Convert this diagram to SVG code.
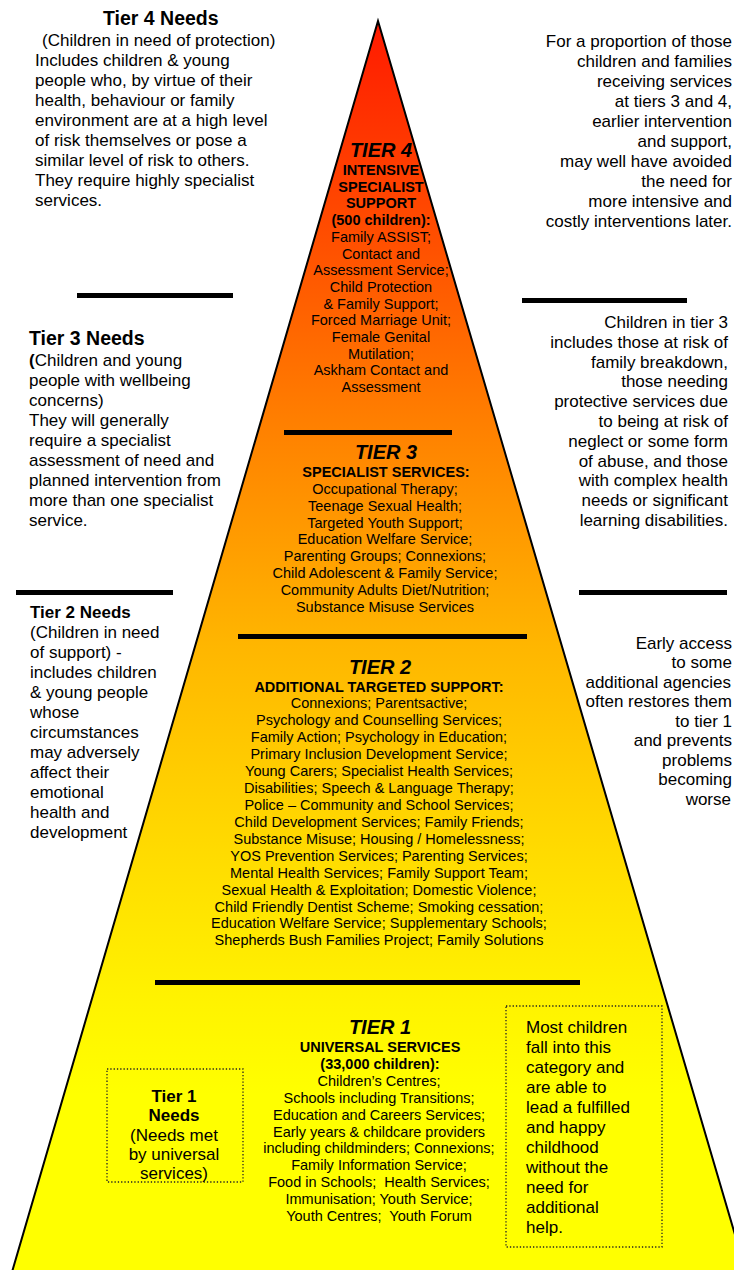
<svg xmlns="http://www.w3.org/2000/svg" width="734" height="1270" viewBox="0 0 734 1270">
<defs>
<linearGradient id="pyr" gradientUnits="userSpaceOnUse" x1="0" y1="21" x2="0" y2="1270">
<stop offset="0" stop-color="#FF1A00"/>
<stop offset="0.185" stop-color="#FF5200"/>
<stop offset="0.32" stop-color="#FF7F00"/>
<stop offset="0.5" stop-color="#FFB600"/>
<stop offset="0.66" stop-color="#FFDA00"/>
<stop offset="0.78" stop-color="#FFF200"/>
<stop offset="0.86" stop-color="#FFFF00"/>
<stop offset="1" stop-color="#FFFF00"/>
</linearGradient>
<style>
text{font-family:"Liberation Sans",Arial,Helvetica,sans-serif;fill:#000}
.b17{font-size:17px}
.h19{font-size:19.5px;font-weight:bold}
.h17{font-size:17px;font-weight:bold}
.r{text-anchor:end}
.c{text-anchor:middle}
.tier{font-size:20px;font-weight:bold;font-style:italic;text-anchor:middle}
.sub{font-size:14.5px;font-weight:bold;text-anchor:middle}
.item{font-size:14.5px;text-anchor:middle}
.bar{fill:#000}
.dot{fill:none;stroke:#222;stroke-width:1.3;stroke-dasharray:1.3 2}
</style>
</defs>
<rect width="734" height="1270" fill="#fff"/>

<g id="pyramid">
<polygon points="378,21 12,1272 746,1272" fill="url(#pyr)" stroke="#000" stroke-width="2" stroke-linejoin="miter"/>
</g>

<g id="connectors">
<rect class="bar" x="77" y="293" width="156" height="5"/>
<rect class="bar" x="522" y="298" width="165" height="5"/>
<rect class="bar" x="284" y="430" width="168" height="5"/>
<rect class="bar" x="16" y="590" width="157" height="5"/>
<rect class="bar" x="579" y="590" width="148" height="5"/>
<rect class="bar" x="238" y="634" width="289" height="5"/>
<rect class="bar" x="155" y="980" width="425" height="5"/>
</g>

<g id="tier4-needs">
<text class="h19" x="103" y="25">Tier 4 Needs</text>
<text class="b17" x="42" y="46">(Children in need of protection)</text>
<text class="b17" x="35" y="66">Includes children &amp; young</text>
<text class="b17" x="35" y="86">people who, by virtue of their</text>
<text class="b17" x="35" y="106">health, behaviour or family</text>
<text class="b17" x="35" y="126">environment are at a high level</text>
<text class="b17" x="35" y="146">of risk themselves or pose a</text>
<text class="b17" x="35" y="166">similar level of risk to others.</text>
<text class="b17" x="35" y="186">They require highly specialist</text>
<text class="b17" x="35" y="206">services.</text>
</g>

<g id="tier4-note">
<text class="b17 r" x="732" y="47">For a proportion of those</text>
<text class="b17 r" x="732" y="67">children and families</text>
<text class="b17 r" x="732" y="87">receiving services</text>
<text class="b17 r" x="732" y="107">at tiers 3 and 4,</text>
<text class="b17 r" x="732" y="127">earlier intervention</text>
<text class="b17 r" x="732" y="147">and support,</text>
<text class="b17 r" x="732" y="167">may well have avoided</text>
<text class="b17 r" x="732" y="187">the need for</text>
<text class="b17 r" x="732" y="207">more intensive and</text>
<text class="b17 r" x="732" y="227">costly interventions later.</text>
</g>

<g id="tier4">
<text class="tier" x="381" y="157">TIER 4</text>
<text class="sub" x="381" y="175">INTENSIVE</text>
<text class="sub" x="381" y="192">SPECIALIST</text>
<text class="sub" x="381" y="208">SUPPORT</text>
<text class="sub" x="381" y="225">(500 children):</text>
<text class="item" x="381" y="242">Family ASSIST;</text>
<text class="item" x="381" y="259">Contact and</text>
<text class="item" x="381" y="275">Assessment Service;</text>
<text class="item" x="381" y="292">Child Protection</text>
<text class="item" x="381" y="309">&amp; Family Support;</text>
<text class="item" x="381" y="325">Forced Marriage Unit;</text>
<text class="item" x="381" y="342">Female Genital</text>
<text class="item" x="381" y="359">Mutilation;</text>
<text class="item" x="381" y="375">Askham Contact and</text>
<text class="item" x="381" y="392">Assessment</text>
</g>

<g id="tier3-needs">
<text class="h19" x="29" y="345">Tier 3 Needs</text>
<text class="b17" x="29" y="366"><tspan font-weight="bold">(</tspan>Children and young</text>
<text class="b17" x="29" y="386">people with wellbeing</text>
<text class="b17" x="29" y="406">concerns)</text>
<text class="b17" x="29" y="426">They will generally</text>
<text class="b17" x="29" y="446">require a specialist</text>
<text class="b17" x="29" y="466">assessment of need and</text>
<text class="b17" x="29" y="486">planned intervention from</text>
<text class="b17" x="29" y="506">more than one specialist</text>
<text class="b17" x="29" y="526">service.</text>
</g>

<g id="tier3-note">
<text class="b17 r" x="728" y="328">Children in tier 3</text>
<text class="b17 r" x="728" y="348">includes those at risk of</text>
<text class="b17 r" x="728" y="368">family breakdown,</text>
<text class="b17 r" x="728" y="387">those needing</text>
<text class="b17 r" x="728" y="407">protective services due</text>
<text class="b17 r" x="728" y="427">to being at risk of</text>
<text class="b17 r" x="728" y="447">neglect or some form</text>
<text class="b17 r" x="728" y="467">of abuse, and those</text>
<text class="b17 r" x="728" y="486">with complex health</text>
<text class="b17 r" x="728" y="506">needs or significant</text>
<text class="b17 r" x="728" y="526">learning disabilities.</text>
</g>

<g id="tier3">
<text class="tier" x="386" y="459">TIER 3</text>
<text class="sub" x="386" y="477">SPECIALIST SERVICES:</text>
<text class="item" x="385" y="494">Occupational Therapy;</text>
<text class="item" x="385" y="511">Teenage Sexual Health;</text>
<text class="item" x="385" y="528">Targeted Youth Support;</text>
<text class="item" x="385" y="544">Education Welfare Service;</text>
<text class="item" x="385" y="561">Parenting Groups; Connexions;</text>
<text class="item" x="385" y="578">Child Adolescent &amp; Family Service;</text>
<text class="item" x="385" y="595">Community Adults Diet/Nutrition;</text>
<text class="item" x="385" y="612">Substance Misuse Services</text>
</g>

<g id="tier2-needs">
<text class="h17" x="30" y="618">Tier 2 Needs</text>
<text class="b17" x="30" y="638">(Children in need</text>
<text class="b17" x="30" y="658">of support) -</text>
<text class="b17" x="30" y="678">includes children</text>
<text class="b17" x="30" y="698">&amp; young people</text>
<text class="b17" x="30" y="718">whose</text>
<text class="b17" x="30" y="738">circumstances</text>
<text class="b17" x="30" y="758">may adversely</text>
<text class="b17" x="30" y="778">affect their</text>
<text class="b17" x="30" y="798">emotional</text>
<text class="b17" x="30" y="818">health and</text>
<text class="b17" x="30" y="838">development</text>
</g>

<g id="tier2-note">
<text class="b17 r" x="732" y="649">Early access</text>
<text class="b17 r" x="732" y="668">to some</text>
<text class="b17 r" x="731" y="688">additional agencies</text>
<text class="b17 r" x="732" y="707">often restores them</text>
<text class="b17 r" x="732" y="727">to tier 1</text>
<text class="b17 r" x="732" y="746">and prevents</text>
<text class="b17 r" x="732" y="766">problems</text>
<text class="b17 r" x="732" y="785">becoming</text>
<text class="b17 r" x="731" y="805">worse</text>
</g>

<g id="tier2">
<text class="tier" x="380" y="674">TIER 2</text>
<text class="sub" x="379" y="692">ADDITIONAL TARGETED SUPPORT:</text>
<text class="item" x="379" y="708">Connexions; Parentsactive;</text>
<text class="item" x="379" y="725">Psychology and Counselling Services;</text>
<text class="item" x="379" y="742">Family Action; Psychology in Education;</text>
<text class="item" x="379" y="759">Primary Inclusion Development Service;</text>
<text class="item" x="379" y="776">Young Carers; Specialist Health Services;</text>
<text class="item" x="379" y="793">Disabilities; Speech &amp; Language Therapy;</text>
<text class="item" x="379" y="810">Police – Community and School Services;</text>
<text class="item" x="379" y="827">Child Development Services; Family Friends;</text>
<text class="item" x="379" y="844">Substance Misuse; Housing / Homelessness;</text>
<text class="item" x="379" y="861">YOS Prevention Services; Parenting Services;</text>
<text class="item" x="379" y="878">Mental Health Services; Family Support Team;</text>
<text class="item" x="379" y="895">Sexual Health &amp; Exploitation; Domestic Violence;</text>
<text class="item" x="379" y="912">Child Friendly Dentist Scheme; Smoking cessation;</text>
<text class="item" x="379" y="928">Education Welfare Service; Supplementary Schools;</text>
<text class="item" x="379" y="945">Shepherds Bush Families Project; Family Solutions</text>
</g>

<g id="tier1">
<text class="tier" x="380" y="1034">TIER 1</text>
<text class="sub" x="380" y="1052">UNIVERSAL SERVICES</text>
<text class="sub" x="380" y="1069">(33,000 children):</text>
<text class="item" x="379" y="1086">Children’s Centres;</text>
<text class="item" x="379" y="1103">Schools including Transitions;</text>
<text class="item" x="379" y="1120">Education and Careers Services;</text>
<text class="item" x="379" y="1137">Early years &amp; childcare providers</text>
<text class="item" x="379" y="1153">including childminders; Connexions;</text>
<text class="item" x="379" y="1170">Family Information Service;</text>
<text class="item" x="379" y="1187" xml:space="preserve">Food in Schools;  Health Services;</text>
<text class="item" x="379" y="1204">Immunisation; Youth Service;</text>
<text class="item" x="379" y="1221" xml:space="preserve">Youth Centres;  Youth Forum</text>
</g>

<g id="tier1-needs">
<rect class="dot" x="107" y="1069" width="136" height="113"/>
<text class="h17 c" x="174" y="1102">Tier 1</text>
<text class="h17 c" x="174" y="1121">Needs</text>
<text class="b17 c" x="174" y="1141">(Needs met</text>
<text class="b17 c" x="174" y="1160">by universal</text>
<text class="b17 c" x="174" y="1179">services)</text>
</g>

<g id="tier1-note">
<rect class="dot" x="506" y="1006" width="156" height="241"/>
<text class="b17" x="526" y="1033">Most children</text>
<text class="b17" x="526" y="1053">fall into this</text>
<text class="b17" x="526" y="1073">category and</text>
<text class="b17" x="526" y="1093">are able to</text>
<text class="b17" x="526" y="1113">lead a fulfilled</text>
<text class="b17" x="526" y="1133">and happy</text>
<text class="b17" x="526" y="1153">childhood</text>
<text class="b17" x="526" y="1173">without the</text>
<text class="b17" x="526" y="1193">need for</text>
<text class="b17" x="526" y="1213">additional</text>
<text class="b17" x="526" y="1233">help.</text>
</g>
</svg>
